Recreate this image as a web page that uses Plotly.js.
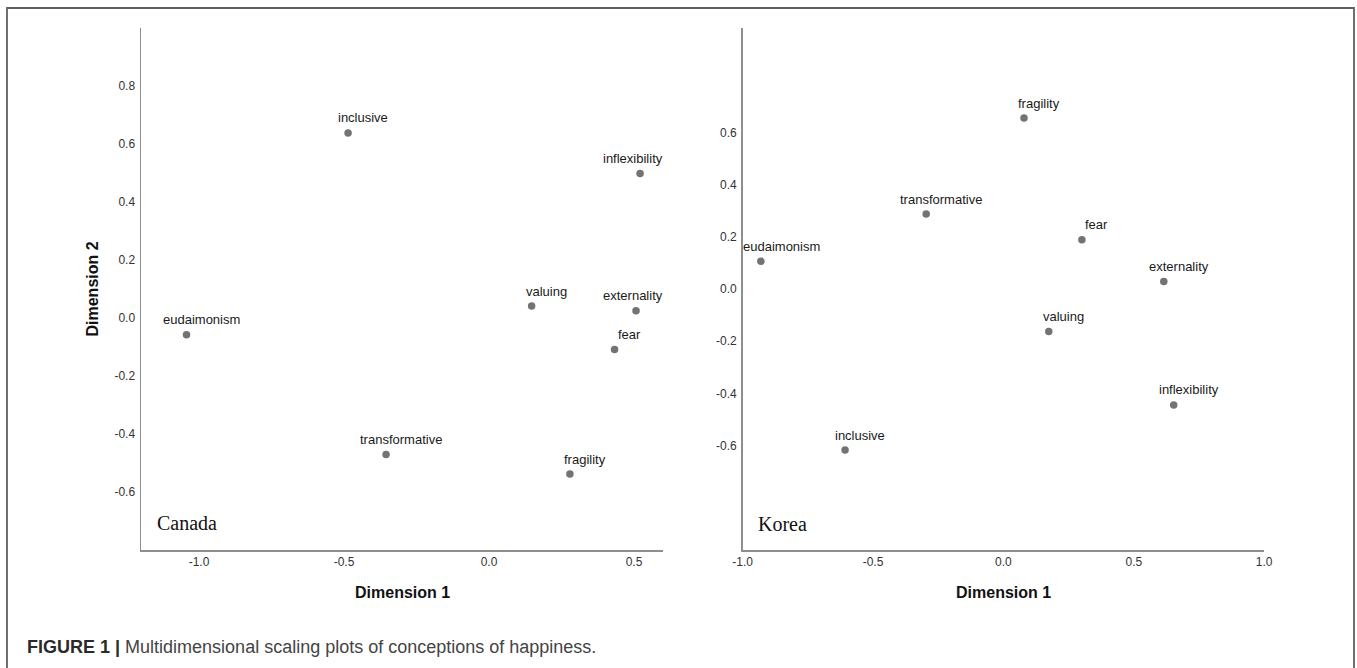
<!DOCTYPE html>
<html>
<head>
<meta charset="utf-8">
<script src="https://cdn.plot.ly/plotly-3.0.1.min.js"></script>
<style>
  html, body { margin: 0; padding: 0; background: #ffffff; }
  #chart { width: 1357px; height: 668px; }
</style>
</head>
<body>
<div id="chart"></div>
<script>
// ---------------- data ----------------
const canadaTerms = ['inclusive', 'inflexibility', 'valuing', 'externality', 'eudaimonism', 'fear', 'transformative', 'fragility'];
const canadaDim1  = [-0.486, 0.521, 0.147, 0.507, -1.043, 0.433, -0.355, 0.279];
const canadaDim2  = [0.638, 0.498, 0.041, 0.025, -0.058, -0.109, -0.471, -0.538];

const koreaTerms = ['fragility', 'transformative', 'fear', 'eudaimonism', 'externality', 'valuing', 'inflexibility', 'inclusive'];
const koreaDim1  = [0.079, -0.296, 0.301, -0.930, 0.615, 0.174, 0.653, -0.607];
const koreaDim2  = [0.655, 0.287, 0.189, 0.106, 0.029, -0.163, -0.444, -0.617];

const canadaXTickVals = [-1.0, -0.5, 0.0, 0.5];
const canadaXTickText = ['-1.0', '-0.5', '0.0', '0.5'];
const canadaYTickVals = [-0.6, -0.4, -0.2, 0.0, 0.2, 0.4, 0.6, 0.8];
const canadaYTickText = ['-0.6', '-0.4', '-0.2', '0.0', '0.2', '0.4', '0.6', '0.8'];

const koreaXTickVals = [-1.0, -0.5, 0.0, 0.5, 1.0];
const koreaXTickText = ['-1.0', '-0.5', '0.0', '0.5', '1.0'];
const koreaYTickVals = [-0.6, -0.4, -0.2, 0.0, 0.2, 0.4, 0.6];
const koreaYTickText = ['-0.6', '-0.4', '-0.2', '0.0', '0.2', '0.4', '0.6'];

const panelNames = ['Canada', 'Korea'];
const axisTitleX = 'Dimension 1';
const axisTitleY = 'Dimension 2';
const captionBold = 'FIGURE 1 |';
const captionText = 'Multidimensional scaling plots of conceptions of happiness.';

// ---------------- layout geometry ----------------
const W = 1357, H = 668;
const xDom1 = [141 / W, 663 / W];
const xDom2 = [742.6 / W, 1264.2 / W];
const yDom  = [1 - 550 / H, 1 - 28 / H];
const xRange1 = [-1.2, 0.6], yRange1 = [-0.8, 1.0];
const xRange2 = [-1.0, 1.0], yRange2 = [-1.0, 1.0];

const labelFont = "13px 'Liberation Sans', Arial, sans-serif";
const canvas = document.createElement('canvas');
const ctx = canvas.getContext('2d');
ctx.font = labelFont;

function pointLabels(terms, xs, ys, xref, yref, xDom, xRange) {
  const pxPerUnit = (xDom[1] - xDom[0]) * W / (xRange[1] - xRange[0]);
  const leftPx = xDom[0] * W, rightPx = xDom[1] * W;
  return terms.map((t, i) => {
    const px = leftPx + (xs[i] - xRange[0]) * pxPerUnit;
    const w = ctx.measureText(t).width;
    let c = px + 15;
    if (c + w / 2 > rightPx) c = rightPx - w / 2;
    if (c - w / 2 < leftPx) c = leftPx + w / 2;
    return {
      x: xs[i], y: ys[i], xref: xref, yref: yref,
      text: t, showarrow: false,
      xanchor: 'center', yanchor: 'middle',
      xshift: c - px, yshift: 15,
      font: { family: 'Liberation Sans, Arial, sans-serif', size: 13, color: '#1a1a1a' }
    };
  });
}

const markerStyle = { size: 7.5, color: '#737373', line: { width: 0 } };

const traces = [
  { type: 'scatter', mode: 'markers', x: canadaDim1, y: canadaDim2, text: canadaTerms,
    xaxis: 'x', yaxis: 'y', marker: markerStyle, cliponaxis: false, hoverinfo: 'text' },
  { type: 'scatter', mode: 'markers', x: koreaDim1, y: koreaDim2, text: koreaTerms,
    xaxis: 'x2', yaxis: 'y2', marker: markerStyle, cliponaxis: false, hoverinfo: 'text' }
];

const tickFont = { family: 'Liberation Sans, Arial, sans-serif', size: 12, color: '#333333' };
const lineColor = '#8e8e8e';

function axis(dom, range, vals, text, anchor, standoff) {
  return {
    domain: dom, range: range, anchor: anchor,
    showline: true, linecolor: lineColor, linewidth: 1.5,
    showgrid: false, zeroline: false, ticks: '',
    tickmode: 'array', tickvals: vals, ticktext: text,
    tickfont: tickFont, fixedrange: true, ticklabelstandoff: standoff
  };
}

const annotations = [].concat(
  pointLabels(canadaTerms, canadaDim1, canadaDim2, 'x', 'y', xDom1, xRange1),
  pointLabels(koreaTerms, koreaDim1, koreaDim2, 'x2', 'y2', xDom2, xRange2),
  [
    { xref: 'x domain', yref: 'y domain', x: 0.027, y: 0.052, xanchor: 'left', yanchor: 'middle',
      text: panelNames[0], showarrow: false,
      font: { family: 'Liberation Serif, Times New Roman, serif', size: 20, color: '#111111' } },
    { xref: 'x2 domain', yref: 'y2 domain', x: 0.025, y: 0.05, xanchor: 'left', yanchor: 'middle',
      text: panelNames[1], showarrow: false,
      font: { family: 'Liberation Serif, Times New Roman, serif', size: 20, color: '#111111' } },
    { xref: 'x domain', yref: 'paper', x: 0.5, y: 1 - 592 / H, xanchor: 'center', yanchor: 'middle',
      text: '<b>' + axisTitleX + '</b>', showarrow: false,
      font: { family: 'Liberation Sans, Arial, sans-serif', size: 16, color: '#111111' } },
    { xref: 'x2 domain', yref: 'paper', x: 0.5, y: 1 - 592 / H, xanchor: 'center', yanchor: 'middle',
      text: '<b>' + axisTitleX + '</b>', showarrow: false,
      font: { family: 'Liberation Sans, Arial, sans-serif', size: 16, color: '#111111' } },
    { xref: 'paper', yref: 'paper', x: 91.5 / W, y: 1 - 289 / H, xanchor: 'center', yanchor: 'middle',
      textangle: -90, text: '<b>' + axisTitleY + '</b>', showarrow: false,
      font: { family: 'Liberation Sans, Arial, sans-serif', size: 16, color: '#111111' } },
    { xref: 'paper', yref: 'paper', x: 25 / W, y: 1 - 647 / H, xanchor: 'left', yanchor: 'middle',
      text: '<b>' + captionBold + '</b> <span style="color:#444444">' + captionText + '</span>',
      showarrow: false, align: 'left',
      font: { family: 'Liberation Sans, Arial, sans-serif', size: 18, color: '#2a2a2a' } }
  ]
);

const layout = {
  width: W, height: H,
  margin: { l: 0, r: 0, t: 0, b: 0, pad: 0 },
  paper_bgcolor: '#ffffff', plot_bgcolor: '#ffffff',
  showlegend: false,
  xaxis: axis(xDom1, xRange1, canadaXTickVals, canadaXTickText, 'y', 0),
  yaxis: axis(yDom, yRange1, canadaYTickVals, canadaYTickText, 'x', 2),
  xaxis2: axis(xDom2, xRange2, koreaXTickVals, koreaXTickText, 'y2', 0),
  yaxis2: axis(yDom, yRange2, koreaYTickVals, koreaYTickText, 'x2', 2),
  annotations: annotations,
  shapes: [
    { type: 'rect', xref: 'paper', yref: 'paper',
      x0: 7 / W, x1: 1354 / W, y0: -0.05, y1: 1 - 8 / H,
      line: { color: '#606060', width: 1.8 }, fillcolor: 'rgba(0,0,0,0)' }
  ]
};

Plotly.newPlot('chart', traces, layout, { displayModeBar: false, staticPlot: true });
</script>
</body>
</html>
